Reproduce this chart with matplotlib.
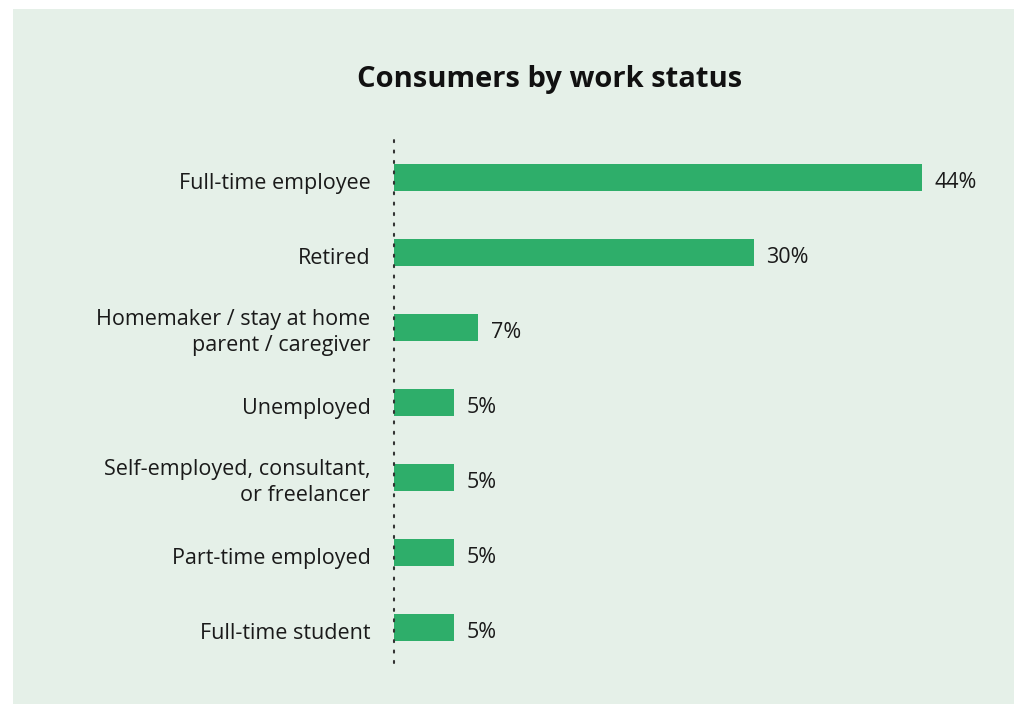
import matplotlib
matplotlib.use("Agg")
import matplotlib.pyplot as plt
from matplotlib.patches import Rectangle
from matplotlib.transforms import ScaledTranslation

# Chart data
categories = [
    "Full-time employee",
    "Retired",
    "Homemaker / stay at home\nparent / caregiver",
    "Unemployed",
    "Self-employed, consultant,\nor freelancer",
    "Part-time employed",
    "Full-time student",
]
values = [44, 30, 7, 5, 5, 5, 5]
value_labels = ["44%", "30%", "7%", "5%", "5%", "5%", "5%"]

BG = "#e5f0e8"
BAR = "#2eae6a"
plt.rcParams['font.family'] = ['Open Sans', 'DejaVu Sans']

fig = plt.figure(figsize=(10.14, 7.04), dpi=100)
fig.patch.set_facecolor("white")
fig.add_artist(Rectangle((13 / 1014, 0), 1, (704 - 9) / 704,
                         transform=fig.transFigure, facecolor=BG,
                         edgecolor="none", zorder=-10))

ax = fig.add_axes([394 / 1014, 41 / 704, 528 / 1014, 525 / 704])
ax.set_facecolor("none")
ax.set_zorder(2)

pos = list(range(len(categories)))
ax.barh(pos, values, height=0.36, color=BAR, zorder=2)
for p, v, lab in zip(pos, values, value_labels):
    ax.annotate(lab, (v, p), xytext=(9, -3.5), textcoords="offset points",
                va="center", ha="left", fontsize=15.5, color="#1a1a1a")

ax.set_xlim(0, 44)
ax.set_ylim(6.473, -0.527)
ax.set_yticks(pos)
ax.set_yticklabels(categories, fontsize=15.5, color="#1a1a1a", linespacing=1.3)
ax.tick_params(axis="y", length=0, pad=17)
ax.set_xticks([])

# nudge one-line labels down a little, like the original
for t in ax.get_yticklabels():
    if "\n" not in t.get_text():
        t.set_transform(t.get_transform() + ScaledTranslation(0, -0.03, fig.dpi_scale_trans))

for s in ["top", "right", "bottom"]:
    ax.spines[s].set_visible(False)
ax.spines["left"].set_linestyle((0, (1, 4)))
ax.spines["left"].set_linewidth(1.5)
ax.spines["left"].set_color("#333333")
ax.spines["left"].set_capstyle("round")

fig.text(550 / 1014, 1 - 80 / 704, "Consumers by work status", ha="center", va="center",
         fontsize=21, fontweight="bold", color="#111111")

fig.savefig("out.png", dpi=100, facecolor=fig.get_facecolor())
